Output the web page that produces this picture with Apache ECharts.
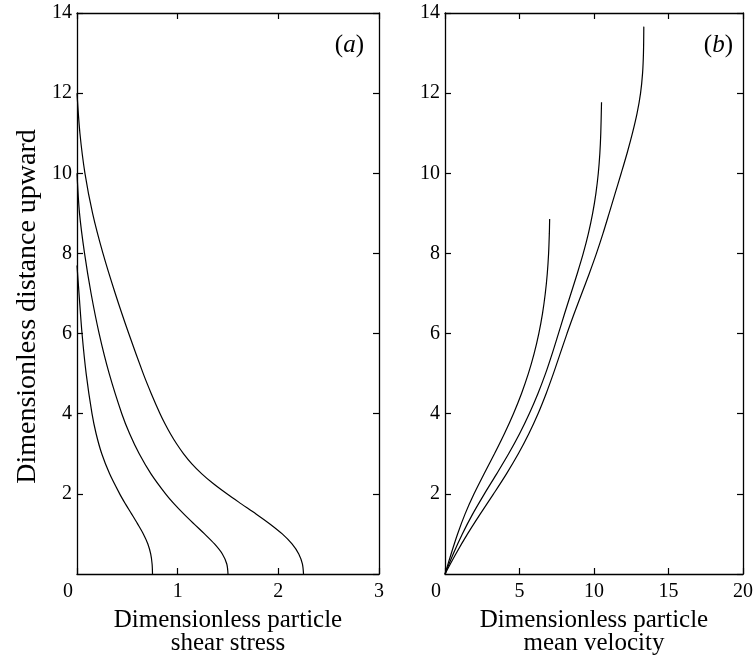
<!DOCTYPE html>
<html>
<head>
<meta charset="utf-8">
<script src="https://cdn.jsdelivr.net/npm/echarts@6/dist/echarts.min.js"></script>
<style>
html,body{margin:0;padding:0;background:#fff;}
#c{width:756px;height:666px;}
</style>
</head>
<body>
<div id="c"></div>
<script>
// ---- Data ----
// Panel (a): dimensionless particle shear stress (x) vs distance upward (y)
const shearX1 = [0.75, 0.746, 0.732, 0.704, 0.659, 0.602, 0.542, 0.481, 0.424, 0.324, 0.246, 0.19, 0.149, 0.091, 0.05, 0.02, 0];
const shearY1 = [0, 0.25, 0.5, 0.75, 1, 1.25, 1.5, 1.75, 2, 2.5, 3, 3.5, 4, 5, 6, 7, 7.7];
const shearX2 = [1.5, 1.488, 1.444, 1.366, 1.267, 1.162, 1.06, 0.965, 0.88, 0.735, 0.618, 0.523, 0.445, 0.32, 0.22, 0.14, 0.075, 0.025, 0];
const shearY2 = [0, 0.25, 0.5, 0.75, 1, 1.25, 1.5, 1.75, 2, 2.5, 3, 3.5, 4, 5, 6, 7, 8, 9, 10];
const shearX3 = [2.25, 2.239, 2.203, 2.136, 2.039, 1.916, 1.778, 1.632, 1.489, 1.356, 1.24, 1.141, 1.059, 0.989, 0.928, 0.874, 0.825, 0.738, 0.658, 0.514, 0.38, 0.258, 0.155, 0.079, 0.029, 0];
const shearY3 = [0, 0.25, 0.5, 0.75, 1, 1.25, 1.5, 1.75, 2, 2.25, 2.5, 2.75, 3, 3.25, 3.5, 3.75, 4, 4.5, 5, 6, 7, 8, 9, 10, 11, 12];
// Panel (b): dimensionless particle mean velocity (x) vs distance upward (y)
const velX1 = [0, 0.408, 0.845, 1.35, 1.95, 2.625, 3.32, 3.985, 4.593, 5.13, 5.593, 5.98, 6.295, 6.543, 6.73, 6.865, 6.953, 7.003, 7.024];
const velY1 = [0, 0.5, 1, 1.5, 2, 2.5, 3, 3.5, 4, 4.5, 5, 5.5, 6, 6.5, 7, 7.5, 8, 8.5, 8.86];
const velX2 = [0, 0.55, 1.163, 1.863, 2.645, 3.468, 4.27, 5.003, 5.653, 6.233, 6.745, 7.195, 7.613, 8.028, 8.453, 8.878, 9.278, 9.625, 9.908, 10.128, 10.288, 10.393, 10.455, 10.505];
const velY2 = [0, 0.5, 1, 1.5, 2, 2.5, 3, 3.5, 4, 4.5, 5, 5.5, 6, 6.5, 7, 7.5, 8, 8.5, 9, 9.5, 10, 10.5, 11, 11.77];
const velX3 = [0, 0.725, 1.513, 2.37, 3.26, 4.125, 4.92, 5.625, 6.243, 6.785, 7.273, 7.73, 8.188, 8.67, 9.178, 9.685, 10.165, 10.605, 11.015, 11.418, 11.825, 12.22, 12.58, 12.893, 13.125, 13.26, 13.32, 13.343];
const velY3 = [0, 0.5, 1, 1.5, 2, 2.5, 3, 3.5, 4, 4.5, 5, 5.5, 6, 6.5, 7, 7.5, 8, 8.5, 9, 9.5, 10, 10.5, 11, 11.5, 12, 12.5, 13, 13.66];
// Axis settings
const shearTicks = {min: 0, max: 3, interval: 1};
const velTicks = {min: 0, max: 20, interval: 5};
const heightTicks = {min: 0, max: 14, interval: 2};
const xTitleA = 'Dimensionless particle\nshear stress';
const xTitleB = 'Dimensionless particle\nmean velocity';
const yTitle = 'Dimensionless distance upward';
const panelTags = ['a', 'b'];

const FONT = "'Liberation Serif', 'Times New Roman', serif";
const pair = (xs, ys) => xs.map((x, i) => [x, ys[i]]);

const lineStyle = {color: '#000', width: 1.2};
const tickStyle = {show: true, inside: true, length: 6, lineStyle: {color: '#000', width: 1.2}};
const axisLine = {show: true, onZero: false, lineStyle: {color: '#000', width: 1.3}};

function xAxisMain(grid, ticks, name) {
  return {
    type: 'value', gridIndex: grid, position: 'bottom',
    min: ticks.min, max: ticks.max, interval: ticks.interval,
    axisLine: axisLine, axisTick: tickStyle, splitLine: {show: false},
    axisLabel: {
      margin: 8, color: '#000', fontFamily: FONT, fontSize: 20,
      formatter: v => v === 0 ? '{z|0}' : String(v),
      rich: {z: {fontFamily: FONT, fontSize: 20, color: '#000', padding: [0, 18, 0, 0]}}
    },
    name: name, nameLocation: 'middle', nameGap: 35,
    nameTextStyle: {color: '#000', fontFamily: FONT, fontSize: 25, lineHeight: 23}
  };
}
function xAxisTop(grid, ticks) {
  return {
    type: 'value', gridIndex: grid, position: 'top',
    min: ticks.min, max: ticks.max, interval: ticks.interval,
    axisLine: axisLine, axisTick: tickStyle, splitLine: {show: false},
    axisLabel: {show: false}
  };
}
function yAxisMain(grid, name) {
  return {
    type: 'value', gridIndex: grid, position: 'left',
    min: heightTicks.min, max: heightTicks.max, interval: heightTicks.interval,
    axisLine: axisLine, axisTick: tickStyle, splitLine: {show: false},
    axisLabel: {margin: 5, color: '#000', fontFamily: FONT, fontSize: 20, showMinLabel: false},
    name: name || '', nameLocation: 'middle', nameGap: 35,
    nameTextStyle: {color: '#000', fontFamily: FONT, fontSize: 28, padding: [0, 26, 0, 0]}
  };
}
function yAxisRight(grid) {
  return {
    type: 'value', gridIndex: grid, position: 'right',
    min: heightTicks.min, max: heightTicks.max, interval: heightTicks.interval,
    axisLine: axisLine, axisTick: tickStyle, splitLine: {show: false},
    axisLabel: {show: false}
  };
}
function curve(xAxisIndex, yAxisIndex, data) {
  return {
    type: 'line', xAxisIndex: xAxisIndex, yAxisIndex: yAxisIndex,
    data: data, showSymbol: false, symbol: 'none', smooth: 0.3,
    lineStyle: lineStyle, silent: true, animation: false
  };
}

const richTag = {
  n: {fontFamily: FONT, fontSize: 25, fill: '#000'},
  i: {fontFamily: FONT, fontSize: 25, fontStyle: 'italic', fill: '#000'}
};

const chart = echarts.init(document.getElementById('c'), null, {renderer: 'canvas'});
chart.setOption({
  backgroundColor: '#fff',
  animation: false,
  grid: [
    {left: 77, top: 13, width: 302, height: 561},
    {left: 445, top: 13, width: 301, height: 561}
  ],
  xAxis: [
    xAxisMain(0, shearTicks, xTitleA),
    xAxisTop(0, shearTicks),
    xAxisMain(1, velTicks, xTitleB),
    xAxisTop(1, velTicks)
  ],
  yAxis: [
    yAxisMain(0, yTitle),
    yAxisRight(0),
    yAxisMain(1, ''),
    yAxisRight(1)
  ],
  series: [
    curve(0, 0, pair(shearX1, shearY1)),
    curve(0, 0, pair(shearX2, shearY2)),
    curve(0, 0, pair(shearX3, shearY3)),
    curve(2, 2, pair(velX1, velY1)),
    curve(2, 2, pair(velX2, velY2)),
    curve(2, 2, pair(velX3, velY3))
  ],
  graphic: [
    {type: 'text', x: 364, y: 45, style: {
      text: '{n|(}{i|' + panelTags[0] + '}{n|)}',
      align: 'right', verticalAlign: 'middle', rich: richTag
    }},
    {type: 'text', x: 733, y: 45, style: {
      text: '{n|(}{i|' + panelTags[1] + '}{n|)}',
      align: 'right', verticalAlign: 'middle', rich: richTag
    }}
  ]
});
</script>
</body>
</html>
